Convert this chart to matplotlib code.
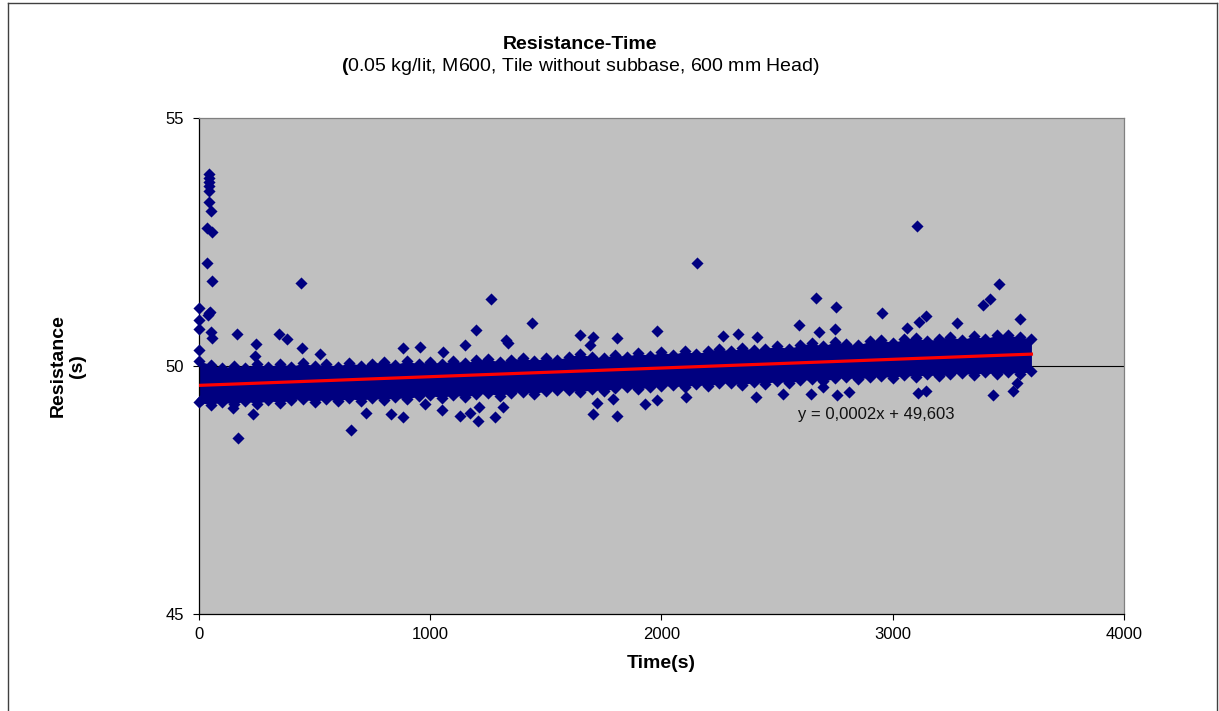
import numpy as np
import matplotlib.pyplot as plt
from matplotlib.lines import Line2D

plt.rcParams['font.family'] = ['Liberation Sans', 'DejaVu Sans']
plt.rcParams['mathtext.fontset'] = 'custom'
plt.rcParams['mathtext.rm'] = 'Liberation Sans'
plt.rcParams['mathtext.bf'] = 'Liberation Sans:bold'

# dense body of the measurements: outer edge of the point cloud, read every 50 s
band_t = [0, 50, 100, 150, 200, 250, 300, 350, 400, 450, 500, 550, 600, 650, 700,
          750, 800, 850, 900, 950, 1000, 1050, 1100, 1150, 1200, 1250, 1300, 1350,
          1400, 1450, 1500, 1550, 1600, 1650, 1700, 1750, 1800, 1850, 1900, 1950,
          2000, 2050, 2100, 2150, 2200, 2250, 2300, 2350, 2400, 2450, 2500, 2550,
          2600, 2650, 2700, 2750, 2800, 2850, 2900, 2950, 3000, 3050, 3100, 3150,
          3200, 3250, 3300, 3350, 3400, 3450, 3500, 3550, 3600]
band_hi = [50.10, 50.03, 49.96, 50.01, 49.97, 50.04, 49.98, 50.05, 49.99, 50.06, 50.00,
           50.04, 49.99, 50.07, 50.01, 50.05, 50.09, 50.03, 50.10, 50.04, 50.09, 50.05,
           50.11, 50.06, 50.12, 50.14, 50.08, 50.13, 50.16, 50.11, 50.16, 50.13, 50.19,
           50.24, 50.18, 50.17, 50.23, 50.19, 50.26, 50.21, 50.28, 50.23, 50.30, 50.25,
           50.30, 50.35, 50.30, 50.37, 50.32, 50.35, 50.40, 50.35, 50.42, 50.46, 50.40,
           50.49, 50.44, 50.42, 50.50, 50.53, 50.47, 50.54, 50.57, 50.51, 50.55, 50.59,
           50.53, 50.60, 50.55, 50.62, 50.62, 50.58, 50.55]
band_lo = [49.27, 49.22, 49.28, 49.23, 49.30, 49.24, 49.31, 49.26, 49.32, 49.34, 49.28,
           49.34, 49.29, 49.35, 49.30, 49.36, 49.31, 49.37, 49.33, 49.40, 49.41, 49.36,
           49.42, 49.37, 49.43, 49.45, 49.40, 49.46, 49.48, 49.44, 49.50, 49.51, 49.52,
           49.47, 49.53, 49.49, 49.55, 49.57, 49.53, 49.58, 49.59, 49.61, 49.57, 49.63,
           49.59, 49.65, 49.66, 49.61, 49.68, 49.64, 49.70, 49.65, 49.71, 49.73, 49.69,
           49.75, 49.77, 49.73, 49.78, 49.80, 49.76, 49.82, 49.78, 49.83, 49.79, 49.84,
           49.86, 49.82, 49.87, 49.83, 49.88, 49.84, 49.90]

# stray points outside the dense band
out_t = [45, 45, 42, 42, 42, 42, 52, 37, 55, 37, 55, 45, 40, 53, 56, 48,
         0, 0, 0, 0, 163, 246, 242, 345, 382, 443, 445, 523, 884, 956, 1054,
         1150, 1200, 1263, 1328, 1337, 1440, 1648, 1702, 1691, 1806, 1982, 2153,
         2267, 2332, 2412, 2596, 2668, 2682, 2752, 2755, 2956, 3063, 3105, 3115,
         3144, 3279, 3392, 3423, 3459, 3550,
         12, 148, 170, 235, 656, 722, 830, 884, 977, 1049, 1129, 1172, 1208, 1209,
         1280, 1316, 1702, 1720, 1792, 1806, 1929, 1979, 2106, 2409, 2527, 2645,
         2700, 2760, 2812, 3109, 3144, 3434, 3519, 3536]
out_r = [53.87, 53.80, 53.72, 53.62, 53.53, 53.31, 53.13, 52.79, 52.70, 52.08, 51.71,
         51.06, 51.03, 50.69, 50.56, 51.09,
         51.16, 50.93, 50.74, 50.32, 50.64, 50.44, 50.20, 50.65, 50.54, 51.67, 50.36,
         50.24, 50.36, 50.39, 50.29, 50.42, 50.73, 51.36, 50.52, 50.47, 50.87, 50.62,
         50.59, 50.42, 50.56, 50.71, 52.07, 50.60, 50.65, 50.59, 50.83, 51.38, 50.69,
         50.74, 51.20, 51.06, 50.76, 52.83, 50.89, 51.01, 50.87, 51.24, 51.35, 51.66,
         50.95,
         49.33, 49.15, 48.54, 49.03, 48.72, 49.05, 49.03, 48.98, 49.23, 49.11, 48.99,
         49.06, 48.89, 49.17, 48.98, 49.17, 49.03, 49.25, 49.33, 48.99, 49.23, 49.31,
         49.38, 49.38, 49.43, 49.43, 49.58, 49.41, 49.48, 49.46, 49.50, 49.42, 49.50,
         49.65]

# linear trend line ends
trend_t = [0, 3600]
trend_r = [49.61, 50.24]
trend_label = "y = 0,0002x + 49,603"

navy = "#000080"

fig = plt.figure(figsize=(12.19, 7.11), dpi=100)
ax = fig.add_axes([0.1632, 0.1364, 0.7588, 0.6976])
ax.set_facecolor("#C0C0C0")

ax.axhline(50, color="black", lw=0.8, zorder=1)

ax.fill_between(band_t, band_lo, band_hi, color=navy, lw=0, zorder=2)
ax.scatter(band_t + band_t, band_hi + band_lo, marker="D", s=38, color=navy,
           lw=0, zorder=3, clip_on=False)
ax.scatter(out_t, out_r, marker="D", s=38, color=navy, lw=0, zorder=3, clip_on=False)

ax.plot(trend_t, trend_r, color="#FF0000", lw=2.3, zorder=4)
ax.text(2590, 49.03, trend_label, fontsize=12, ha="left", va="center", color="#111111")

ax.set_xlim(0, 4000)
ax.set_ylim(45, 55)
ax.set_xticks([0, 1000, 2000, 3000, 4000])
ax.set_yticks([45, 50, 55])
ax.tick_params(direction="out", length=4, width=0.8, labelsize=12, color="black")
ax.tick_params(axis="y", pad=7)
ax.tick_params(axis="x", pad=5)

for side in ["left", "bottom"]:
    ax.spines[side].set_color("black")
    ax.spines[side].set_linewidth(0.9)
for side in ["top", "right"]:
    ax.spines[side].set_color("#808080")
    ax.spines[side].set_linewidth(0.9)

ax.set_xlabel("Time(s)", fontsize=14, fontweight="bold", labelpad=10)
ax.set_ylabel("Resistance\n(s)", fontsize=14, fontweight="bold", multialignment="center")
ax.yaxis.set_label_coords(-0.122, 0.5)

fig.text(0.476, 0.937, "Resistance-Time", fontsize=14, fontweight="bold",
         ha="center", va="center")
fig.text(0.476, 0.906, r"$\mathbf{(}$0.05 kg/lit, M600, Tile without subbase, 600 mm Head)",
         fontsize=14, ha="center", va="center")

# chart area border
fig.add_artist(Line2D([8 / 1219, 8 / 1219], [0, 1 - 3 / 711], transform=fig.transFigure,
                      color="#404040", lw=1))
fig.add_artist(Line2D([8 / 1219, 1217 / 1219], [1 - 3 / 711, 1 - 3 / 711],
                      transform=fig.transFigure, color="#404040", lw=1))
fig.add_artist(Line2D([1217 / 1219, 1217 / 1219], [0, 1 - 3 / 711],
                      transform=fig.transFigure, color="#404040", lw=1))

fig.savefig("out.png", dpi=100)
